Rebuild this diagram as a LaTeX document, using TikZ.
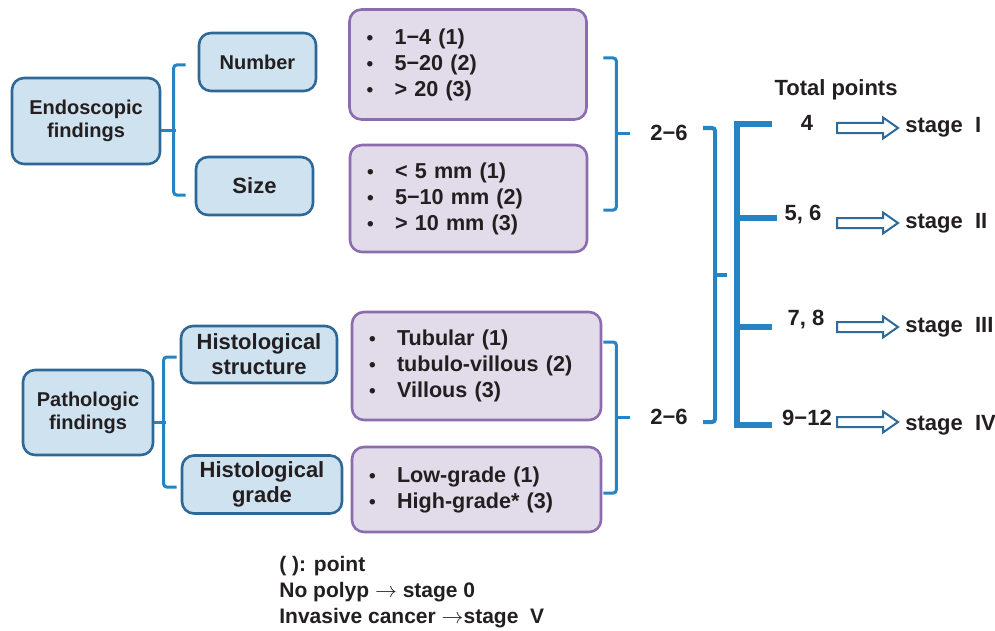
\documentclass[tikz,border=0pt]{standalone}
\usepackage{fontspec}
\setmainfont{Liberation Sans}
\usepackage{xcolor}
\definecolor{boxblue}{RGB}{45,104,150}
\definecolor{boxfill}{RGB}{207,226,239}
\definecolor{itemline}{RGB}{138,108,175}
\definecolor{itemfill}{RGB}{226,219,234}
\definecolor{braceblue}{RGB}{38,132,196}
\definecolor{arrowblue}{RGB}{46,106,154}
\definecolor{textdark}{RGB}{35,31,32}
\usepackage{tikz}
\usetikzlibrary{calc}
\newcommand{\itm}[1]{\makebox[14pt][l]{{\fontsize{9.5}{9.5}\selectfont\textbullet}}#1}
\newcommand{\fsmall}{\fontsize{10}{11.5}\selectfont}
\newcommand{\flarge}{\fontsize{11}{12.5}\selectfont}
\newcommand{\hollowarrow}[1]{\draw[hollow] (#1) ++(-30.5,-5) -- ++(46,0) -- ++(0,-5.5) -- ++(15,10.5)
    -- ++(-15,10.5) -- ++(0,-5.5) -- ++(-46,0) -- cycle;}
\tikzset{
    common/.style={draw, rounded corners=6pt, line width=1.3pt, inner sep=0pt, align=center, text=textdark, font=\bfseries\fsmall},
    topic/.style={common, draw=boxblue, fill=boxfill},
    items/.style={common, draw=itemline, fill=itemfill, align=left, inner xsep=8.5pt, font=\bfseries\fontsize{10.8}{13}\selectfont},
    txt/.style={inner sep=0pt, text=textdark, font=\bfseries\flarge},
    brace/.style={draw=braceblue, line width=1.5pt, rounded corners=1.5pt},
    bigbrace/.style={brace, line width=2pt},
    tree/.style={draw=braceblue, line width=2.8pt, line join=miter},
    hollow/.style={draw=arrowblue, fill=white, line width=1pt, line join=miter}
}
\begin{document}
\begin{tikzpicture}[x=0.5pt, y=-0.5pt]
    \useasboundingbox (0,0) rectangle (995,631);
    % findings
    \node[topic, minimum width=74pt, minimum height=43pt] (endo) at (86,121) {Endoscopic\\findings};
    \node[topic, minimum width=65pt, minimum height=42.5pt] (patho) at (88,412.5) {Pathologic\\findings};
    \node[topic, minimum width=58.5pt, minimum height=29pt] (num) at (257.5,62) {Number};
    \node[topic, minimum width=58.5pt, minimum height=29pt, font=\bfseries\flarge] (size) at (254.5,186) {Size};
    \node[topic, minimum width=78pt, minimum height=28.5pt, font=\bfseries\flarge] (hstruct) at (259,354.5) {Histological\\structure};
    \node[topic, minimum width=80pt, minimum height=29pt, font=\bfseries\flarge] (hgrade) at (262,484.5) {Histological\\grade};
    % points
    \node[items, text width=101.5pt, minimum height=55pt] (nlist) at (468,64.5) {\itm{1−4 (1)}\\\itm{5−20 (2)}\\\itm{> 20 (3)}};
    \node[items, text width=101.5pt, minimum height=53.5pt] (slist) at (468.5,198.5) {\itm{< 5 mm (1)}\\\itm{5−10 mm (2)}\\\itm{> 10 mm (3)}};
    \node[items, text width=107.5pt, minimum height=54pt] (tlist) at (476.5,366) {\itm{Tubular (1)}\\\itm{tubulo-villous (2)}\\\itm{Villous (3)}};
    \node[items, text width=107.5pt, minimum height=42.5pt] (glist) at (476.5,489.5) {\itm{Low-grade (1)}\\\itm{High-grade* (3)}};
    \node[txt] (sum1) at (669,133) {2−6};
    \node[txt] (sum2) at (669,417) {2−6};
    % total and stages
    \node[txt] (total) at (836,90) {Total points};
    \node[txt] (p1) at (807,123) {4};
    \node[txt] (p2) at (803,215) {5, 6};
    \node[txt] (p3) at (806,320) {7, 8};
    \node[txt] (p4) at (807,418) {9−12};
    \coordinate (a1) at (867.5,128);
    \coordinate (a2) at (867.5,223);
    \coordinate (a3) at (867.5,327);
    \coordinate (a4) at (867.5,422);
    \hollowarrow{a1}
    \hollowarrow{a2}
    \hollowarrow{a3}
    \hollowarrow{a4}
    \node[txt, anchor=west] (s1) at (905,127) {stage~~I};
    \node[txt, anchor=west] (s2) at (905,223) {stage~~II};
    \node[txt, anchor=west] (s3) at (905,327) {stage~~III};
    \node[txt, anchor=west] (s4) at (905,425) {stage~~IV};
    \node[txt, anchor=west, align=left, font=\bfseries\fontsize{10.5}{13}\selectfont] (note) at (279,592)
        {( ): point\\No polyp $\rightarrow$ stage 0\\Invasive cancer $\rightarrow$stage~~V};
    % brackets
    \draw[brace] ($(num.west)+(-12,3)$) -- ++(-12,0) |- ($(size.west)+(-9,9)$);
    \draw[brace] ($(endo.east)+(0,9)$) -- ++(15,0);
    \draw[brace] ($(hstruct.west)+(-3,2.5)$) -- ++(-13,0) |- ($(hgrade.west)+(-4,2.5)$);
    \draw[brace] ($(patho.east)+(0,9.5)$) -- ++(12,0);
    \draw[brace] ($(nlist.east)+(15.5,-6.5)$) -- ++(13,0) |- ($(slist.east)+(15,11.5)$);
    \draw[brace] ($(sum1.west)+(-20,0)$) -- ++(-15,0);
    \draw[brace] ($(tlist.east)+(1,-24)$) -- ++(13,0) |- ($(glist.east)+(1,3.5)$);
    \draw[brace] ($(sum2.west)+(-20,0)$) -- ++(-15,0);
    \draw[bigbrace] ($(sum1.east)+(15,-5)$) -- ++(12,0) |- ($(sum2.east)+(15,5)$);
    \draw[bigbrace] ($(sum1.east)!0.5!(sum2.east)+(27,0)$) coordinate (bm) -- ++(12,0);
    % tree
    \coordinate (tt) at (737,124);
    \coordinate (tb) at (737,425);
    \coordinate (b1) at (772,124);
    \coordinate (b2) at (777,218);
    \coordinate (b3) at (772,327);
    \coordinate (b4) at (772,425);
    \draw[tree] (b1) -- (tt) -- (tb) -- (b4);
    \draw[tree] (b2) -- (b2 -| tt);
    \draw[tree] (b3) -- (b3 -| tt);
\end{tikzpicture}
\end{document}
